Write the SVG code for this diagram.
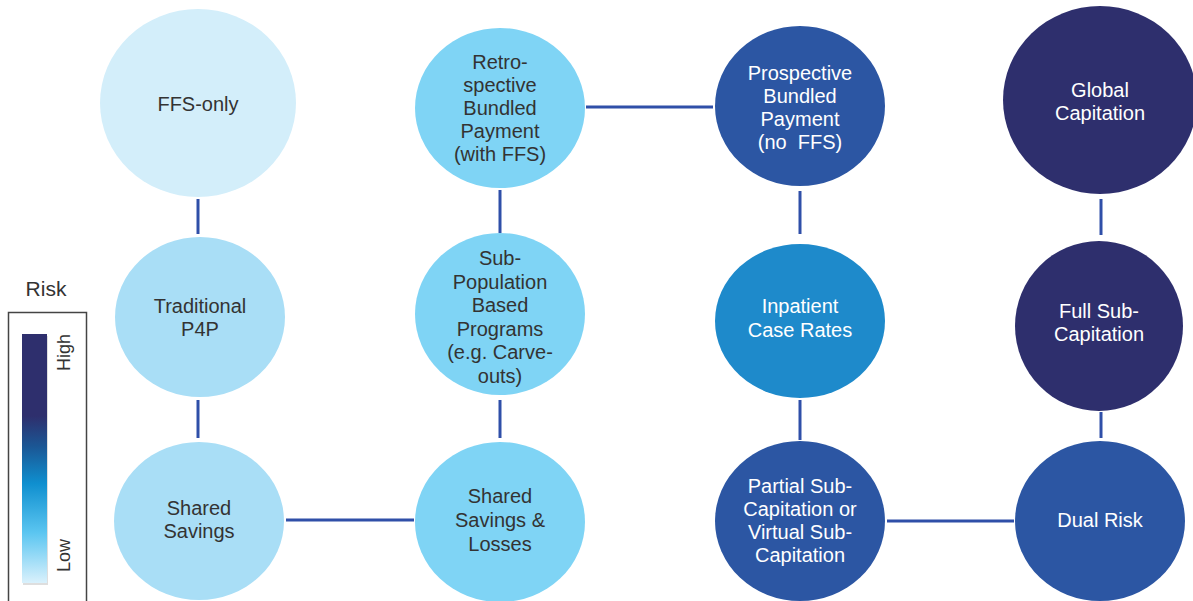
<svg xmlns="http://www.w3.org/2000/svg" width="1193" height="601" viewBox="0 0 1193 601">
<style>
text{font-family:"Liberation Sans",Arial,sans-serif;font-size:20px;text-anchor:middle}
.d{fill:#333333}
.w{fill:#ffffff}
.c{stroke:#2f4fa8;stroke-width:3;fill:none}
.l0{fill:#d3eefa}
.l1{fill:#a9def6}
.l2{fill:#7fd4f5}
.m{fill:#1e8acb}
.b{fill:#2c56a3}
.n{fill:#2e2f6d}
</style>
<defs>
<linearGradient id="risk" x1="0" y1="0" x2="0" y2="1">
<stop offset="0" stop-color="#2e2f6d"/>
<stop offset="0.33" stop-color="#2e2f6d"/>
<stop offset="0.45" stop-color="#1b5694"/>
<stop offset="0.6" stop-color="#0f8fcf"/>
<stop offset="0.8" stop-color="#5cc6f1"/>
<stop offset="1" stop-color="#daf1fc"/>
</linearGradient>
</defs>
<rect width="1193" height="601" fill="#ffffff"/>
<g id="connectors">
<line class="c" x1="198" y1="199" x2="198" y2="234"/>
<line class="c" x1="198" y1="400" x2="198" y2="438"/>
<line class="c" x1="286" y1="520" x2="414" y2="520"/>
<line class="c" x1="500" y1="190" x2="500" y2="233"/>
<line class="c" x1="500" y1="400" x2="500" y2="438"/>
<line class="c" x1="586" y1="107" x2="713" y2="107"/>
<line class="c" x1="800" y1="191" x2="800" y2="234"/>
<line class="c" x1="800" y1="400" x2="800" y2="440"/>
<line class="c" x1="887" y1="521" x2="1014" y2="521"/>
<line class="c" x1="1101" y1="199" x2="1101" y2="235"/>
<line class="c" x1="1101" y1="412" x2="1101" y2="438"/>
</g>
<g id="legend">
<text class="d" x="46" y="296" style="font-size:21px">Risk</text>
<rect x="8.5" y="312.5" width="78" height="300" fill="#ffffff" stroke="#444444" stroke-width="1.5"/>
<rect x="23" y="336" width="25" height="249" fill="#c8c8c8" opacity="0.6"/>
<rect x="22" y="334" width="25" height="249" fill="url(#risk)"/>
<text class="d" transform="translate(70,371) rotate(-90)" style="font-size:18px;text-anchor:start">High</text>
<text class="d" transform="translate(70,572) rotate(-90)" style="font-size:18px;text-anchor:start">Low</text>
</g>
<g id="ffs-only">
<ellipse class="l0" cx="198" cy="103" rx="98" ry="94"/>
<text class="d" x="198" y="111">FFS-only</text>
</g>
<g id="retro-bundled">
<ellipse class="l2" cx="500" cy="108" rx="85" ry="80"/>
<text class="d" x="500" y="69">Retro-</text>
<text class="d" x="500" y="92">spective</text>
<text class="d" x="500" y="115">Bundled</text>
<text class="d" x="500" y="138">Payment</text>
<text class="d" x="500" y="161">(with FFS)</text>
</g>
<g id="prospective-bundled">
<ellipse class="b" cx="800" cy="106" rx="85" ry="80"/>
<text class="w" x="800" y="80">Prospective</text>
<text class="w" x="800" y="103">Bundled</text>
<text class="w" x="800" y="126">Payment</text>
<text class="w" x="800" y="149">(no&#160; FFS)</text>
</g>
<g id="global-capitation">
<ellipse class="n" cx="1100" cy="100" rx="97" ry="94"/>
<text class="w" x="1100" y="97">Global</text>
<text class="w" x="1100" y="120">Capitation</text>
</g>
<g id="traditional-p4p">
<ellipse class="l1" cx="200" cy="317" rx="85" ry="80"/>
<text class="d" x="200" y="313">Traditional</text>
<text class="d" x="200" y="336">P4P</text>
</g>
<g id="sub-population">
<ellipse class="l2" cx="500" cy="314" rx="85" ry="81"/>
<text class="d" x="500" y="265">Sub-</text>
<text class="d" x="500" y="288.5">Population</text>
<text class="d" x="500" y="312">Based</text>
<text class="d" x="500" y="335.5">Programs</text>
<text class="d" x="500" y="359">(e.g. Carve-</text>
<text class="d" x="500" y="382.5">outs)</text>
</g>
<g id="inpatient-case-rates">
<ellipse class="m" cx="800" cy="321" rx="85" ry="77"/>
<text class="w" x="800" y="313">Inpatient</text>
<text class="w" x="800" y="337">Case Rates</text>
</g>
<g id="full-sub-capitation">
<ellipse class="n" cx="1099" cy="326" rx="84" ry="85"/>
<text class="w" x="1099" y="318">Full Sub-</text>
<text class="w" x="1099" y="341">Capitation</text>
</g>
<g id="shared-savings">
<ellipse class="l1" cx="199" cy="521" rx="85" ry="79"/>
<text class="d" x="199" y="515">Shared</text>
<text class="d" x="199" y="538">Savings</text>
</g>
<g id="shared-savings-losses">
<ellipse class="l2" cx="500" cy="522" rx="85" ry="80"/>
<text class="d" x="500" y="503">Shared</text>
<text class="d" x="500" y="527">Savings &amp;</text>
<text class="d" x="500" y="551">Losses</text>
</g>
<g id="partial-sub-capitation">
<ellipse class="b" cx="800" cy="521" rx="85" ry="80"/>
<text class="w" x="800" y="493">Partial Sub-</text>
<text class="w" x="800" y="516">Capitation or</text>
<text class="w" x="800" y="539">Virtual Sub-</text>
<text class="w" x="800" y="562">Capitation</text>
</g>
<g id="dual-risk">
<ellipse class="b" cx="1100" cy="521" rx="85" ry="80"/>
<text class="w" x="1100" y="527">Dual Risk</text>
</g>
</svg>
